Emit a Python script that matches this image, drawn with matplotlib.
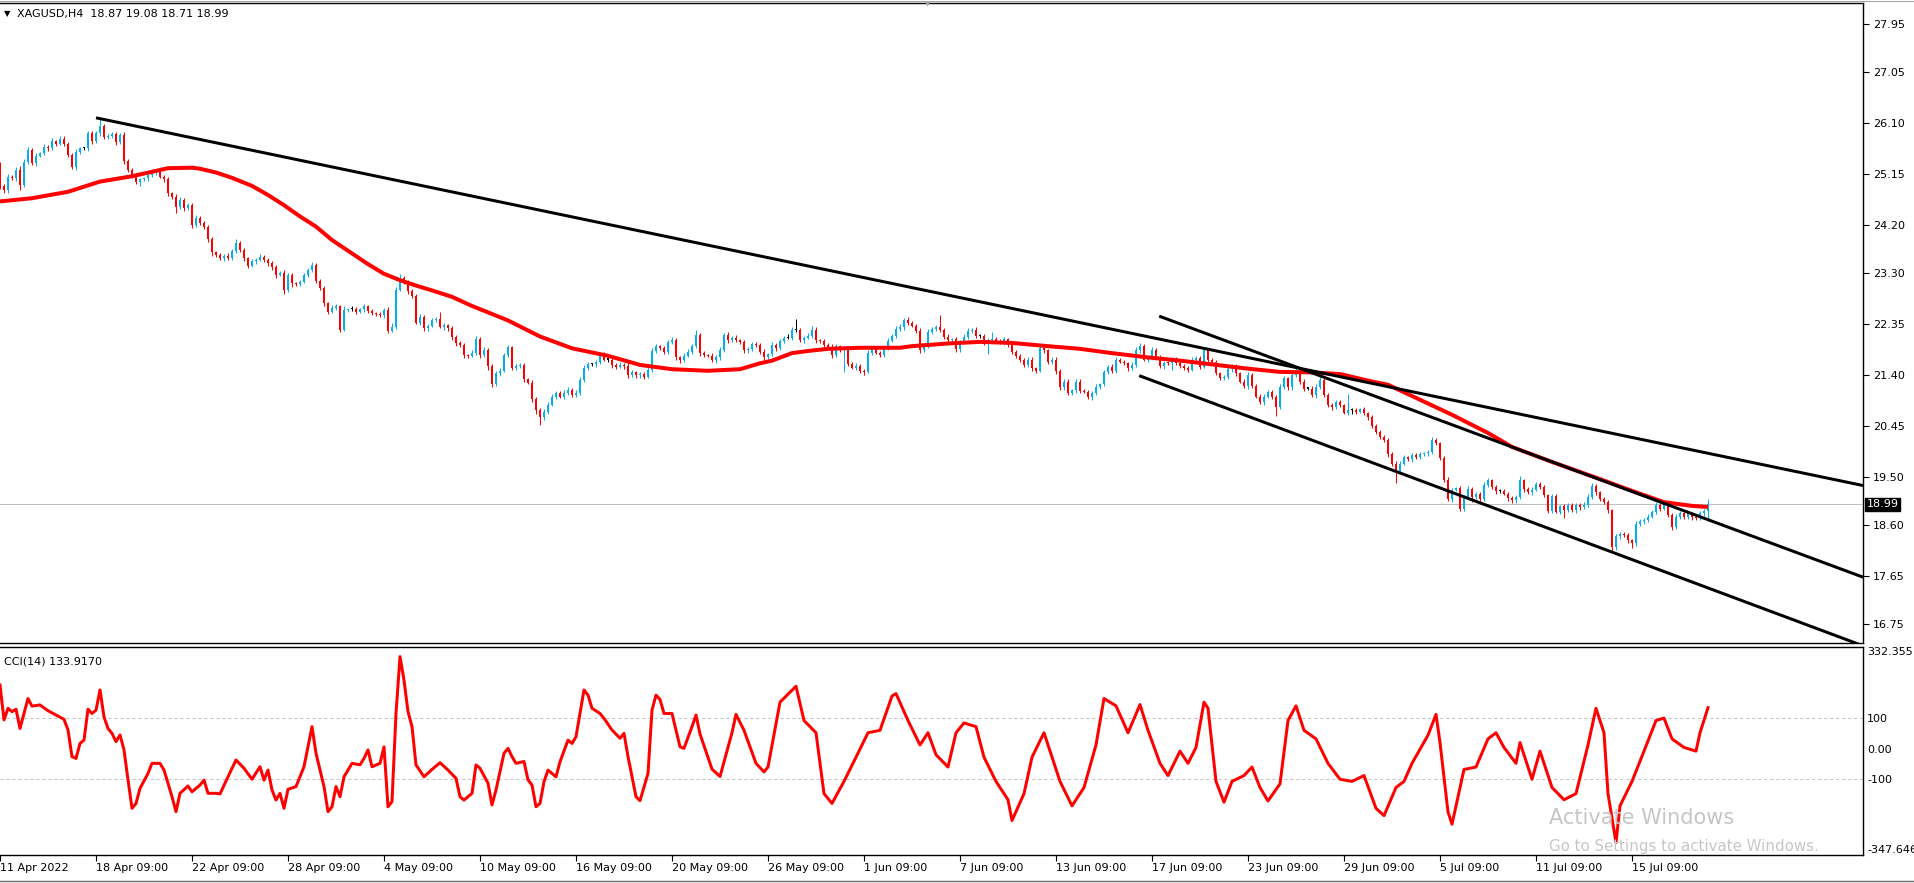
import numpy as np
import matplotlib
matplotlib.use("Agg")
import matplotlib.pyplot as plt
from matplotlib.lines import Line2D

# ---------------- data ----------------
symbol_title = "XAGUSD,H4  18.87 19.08 18.71 18.99"
open0 = 25.05
close = [
    24.93, 24.85, 25.10, 25.07, 25.23, 24.95, 25.38, 25.60, 25.35, 25.49,
    25.54, 25.66, 25.63, 25.76, 25.72, 25.81, 25.72, 25.51, 25.29, 25.57,
    25.63, 25.63, 25.91, 25.76, 25.91, 26.04, 25.84, 25.87, 25.89, 25.74,
    25.88, 25.40, 25.23, 25.13, 25.01, 25.05, 25.07, 25.13, 25.17, 25.20,
    25.10, 25.05, 24.79, 24.73, 24.54, 24.67, 24.51, 24.57, 24.20, 24.33,
    24.23, 24.17, 23.93, 23.69, 23.64, 23.58, 23.62, 23.58, 23.72, 23.86,
    23.73, 23.58, 23.44, 23.52, 23.55, 23.61, 23.55, 23.49, 23.41, 23.27,
    23.30, 22.99, 23.27, 23.11, 23.10, 23.14, 23.27, 23.36, 23.46, 23.16,
    23.02, 22.74, 22.58, 22.66, 22.68, 22.25, 22.62, 22.63, 22.63, 22.58,
    22.63, 22.68, 22.60, 22.55, 22.54, 22.52, 22.62, 22.23, 22.30, 22.99,
    23.21, 23.14, 22.96, 22.88, 22.38, 22.48, 22.27, 22.32, 22.43, 22.44,
    22.30, 22.33, 22.27, 22.12, 21.99, 21.96, 21.77, 21.76, 21.82, 22.07,
    21.77, 21.87, 21.57, 21.23, 21.43, 21.48, 21.77, 21.92, 21.54, 21.57,
    21.59, 21.32, 21.26, 20.95, 20.75, 20.62, 20.72, 20.85, 21.00, 21.06,
    21.00, 21.07, 21.13, 21.03, 21.07, 21.31, 21.54, 21.60, 21.60, 21.65,
    21.77, 21.69, 21.69, 21.59, 21.56, 21.59, 21.57, 21.41, 21.45, 21.40,
    21.42, 21.37, 21.50, 21.85, 21.94, 21.90, 21.84, 22.01, 22.05, 21.73,
    21.68, 21.76, 21.84, 21.94, 22.15, 21.81, 21.77, 21.76, 21.68, 21.73,
    21.87, 22.15, 22.05, 22.10, 22.05, 22.02, 21.86, 21.88, 21.98, 21.96,
    21.84, 21.73, 21.79, 21.96, 21.90, 22.04, 22.10, 22.10, 22.24, 22.24,
    22.05, 22.10, 22.13, 22.25, 22.05, 22.04, 21.96, 21.93, 21.77, 21.94,
    21.87, 21.90, 21.61, 21.54, 21.57, 21.48, 21.46, 21.82, 21.88, 21.82,
    21.77, 21.90, 22.04, 22.13, 22.26, 22.30, 22.43, 22.37, 22.32, 22.23,
    21.87, 21.93, 22.21, 22.26, 22.30, 22.24, 22.12, 22.05, 22.07, 21.88,
    22.01, 22.12, 22.23, 22.24, 22.13, 22.13, 22.02, 22.05, 22.07, 22.04,
    22.02, 22.07, 21.96, 21.84, 21.76, 21.68, 21.59, 21.69, 21.53, 21.48,
    21.90, 21.86, 21.65, 21.69, 21.48, 21.17, 21.28, 21.06, 21.12, 21.28,
    21.11, 21.09, 20.99, 21.06, 21.18, 21.23, 21.46, 21.55, 21.48, 21.69,
    21.65, 21.62, 21.53, 21.59, 21.86, 21.94, 21.69, 21.74, 21.87, 21.74,
    21.57, 21.63, 21.62, 21.69, 21.63, 21.57, 21.53, 21.50, 21.69, 21.71,
    21.56, 21.87, 21.69, 21.65, 21.43, 21.34, 21.37, 21.51, 21.57, 21.43,
    21.28, 21.20, 21.40, 21.20, 21.00, 20.90, 21.00, 21.09, 20.99, 20.81,
    21.18, 21.34, 21.17, 21.40, 21.50, 21.28, 21.15, 21.15, 21.03, 21.18,
    21.30, 21.03, 20.84, 20.80, 20.90, 20.84, 20.70, 20.75, 20.75, 20.72,
    20.76, 20.69, 20.62, 20.45, 20.34, 20.24, 20.19, 19.93, 19.75, 19.60,
    19.75, 19.87, 19.83, 19.91, 19.87, 19.93, 19.94, 19.97, 20.19, 20.13,
    19.85, 19.45, 19.08, 19.26, 19.29, 18.91, 19.13, 19.27, 19.12, 19.18,
    19.09, 19.35, 19.44, 19.31, 19.24, 19.24, 19.19, 19.10, 19.07, 19.13,
    19.44, 19.27, 19.21, 19.26, 19.37, 19.31, 19.16, 18.87, 19.14, 18.85,
    18.95, 18.88, 18.98, 18.88, 18.98, 18.93, 18.98, 19.13, 19.33, 19.21,
    19.08, 19.04, 18.88, 18.20, 18.39, 18.44, 18.41, 18.32, 18.26, 18.62,
    18.68, 18.70, 18.76, 18.85, 18.98, 18.91, 19.00, 18.79, 18.57, 18.75,
    18.82, 18.75, 18.82, 18.75, 18.73, 18.82, 18.87, 18.99,
]
# wick lengths above body top / below body bottom, in cents
upper_wick_cents = [
    33, 4, 6, 3, 5, 8, 5, 6, 4, 5, 3, 5, 4, 6, 3, 5, 6, 3, 4, 5,
    3, 2, 5, 4, 5, 15, 5, 3, 4, 4, 3, 6, 4, 3, 4, 3, 3, 5, 4, 5,
    3, 4, 5, 3, 4, 6, 4, 5, 4, 6, 3, 4, 3, 4, 3, 4, 3, 5, 4, 8,
    5, 4, 3, 4, 3, 5, 3, 4, 3, 5, 4, 6, 3, 4, 2, 3, 4, 3, 5, 3,
    4, 5, 3, 4, 5, 3, 6, 3, 5, 4, 3, 4, 3, 4, 3, 4, 3, 5, 8, 6,
    8, 4, 3, 5, 4, 6, 4, 3, 4, 5, 14, 4, 3, 4, 3, 5, 4, 3, 5, 6,
    4, 5, 3, 4, 5, 6, 4, 5, 3, 4, 3, 4, 3, 5, 4, 3, 4, 5, 4, 5,
    4, 5, 4, 3, 5, 6, 4, 4, 3, 4, 5, 6, 4, 6, 3, 5, 4, 5, 4, 3,
    4, 3, 5, 6, 4, 3, 5, 4, 6, 4, 3, 5, 4, 4, 9, 3, 4, 3, 5, 4,
    5, 4, 6, 3, 4, 3, 4, 5, 3, 4, 3, 4, 3, 5, 4, 4, 3, 6, 5, 20,
    4, 3, 5, 6, 4, 3, 4, 3, 5, 4, 3, 4, 3, 4, 5, 4, 4, 5, 3, 4,
    3, 4, 5, 4, 5, 6, 4, 5, 4, 3, 5, 4, 5, 4, 4, 22, 3, 4, 3, 5,
    4, 5, 4, 3, 5, 3, 4, 4, 13, 5, 3, 4, 3, 4, 3, 4, 3, 5, 4, 3,
    5, 4, 3, 5, 4, 3, 4, 5, 3, 4, 5, 4, 3, 4, 5, 3, 4, 3, 5, 4,
    3, 4, 3, 5, 6, 5, 4, 3, 6, 4, 3, 4, 3, 5, 4, 3, 3, 4, 5, 4,
    4, 5, 4, 3, 4, 3, 4, 5, 3, 4, 3, 4, 5, 4, 3, 5, 4, 3, 4, 3,
    5, 4, 3, 5, 6, 3, 4, 3, 4, 5, 6, 4, 3, 4, 3, 4, 3, 29, 3, 4,
    3, 4, 3, 4, 3, 3, 4, 3, 3, 4, 5, 4, 3, 4, 3, 4, 3, 4, 6, 4,
    3, 4, 5, 4, 3, 5, 4, 6, 4, 3, 4, 5, 4, 3, 4, 3, 4, 3, 5, 4,
    8, 3, 4, 5, 4, 3, 4, 3, 5, 4, 3, 4, 3, 4, 3, 4, 5, 6, 5, 4,
    3, 4, 3, 3, 5, 4, 3, 4, 3, 5, 4, 3, 4, 3, 5, 3, 6, 4, 3, 5,
    4, 3, 4, 3, 4, 5, 4, 9,
]
lower_wick_cents = [
    6, 5, 5, 3, 4, 10, 4, 5, 3, 5, 3, 4, 5, 3, 4, 3, 5, 4, 5, 6,
    4, 3, 5, 4, 3, 5, 4, 3, 5, 4, 3, 6, 4, 5, 4, 8, 3, 4, 3, 4,
    3, 4, 5, 4, 12, 5, 4, 3, 6, 4, 3, 4, 5, 6, 4, 3, 5, 4, 3, 5,
    4, 5, 4, 3, 4, 3, 4, 6, 4, 5, 3, 8, 4, 6, 3, 4, 3, 4, 3, 5,
    4, 5, 4, 3, 4, 5, 3, 4, 3, 4, 3, 5, 4, 3, 4, 3, 5, 4, 3, 4,
    3, 4, 5, 4, 3, 4, 5, 4, 3, 4, 3, 5, 4, 6, 4, 3, 5, 4, 3, 4,
    5, 4, 8, 6, 4, 5, 3, 4, 5, 4, 3, 4, 3, 6, 8, 15, 5, 4, 3, 4,
    3, 4, 5, 4, 3, 4, 3, 4, 3, 5, 4, 3, 4, 5, 4, 3, 5, 6, 4, 5,
    5, 4, 3, 4, 3, 4, 5, 4, 3, 4, 5, 4, 3, 4, 3, 5, 4, 3, 4, 5,
    4, 3, 5, 4, 3, 4, 5, 4, 3, 4, 5, 4, 3, 4, 5, 3, 4, 3, 4, 3,
    4, 5, 3, 4, 5, 4, 3, 4, 5, 3, 4, 41, 4, 3, 4, 5, 6, 3, 4, 3,
    4, 3, 4, 3, 4, 3, 5, 4, 3, 4, 5, 4, 3, 4, 3, 4, 5, 3, 4, 5,
    4, 3, 4, 5, 4, 3, 5, 23, 4, 3, 4, 5, 3, 4, 5, 4, 3, 4, 5, 4,
    3, 4, 5, 4, 6, 5, 4, 3, 4, 5, 4, 3, 4, 5, 3, 4, 3, 4, 5, 4,
    3, 4, 5, 4, 3, 4, 3, 5, 4, 3, 4, 5, 3, 13, 4, 3, 4, 5, 3, 4,
    4, 3, 5, 4, 3, 4, 3, 4, 5, 4, 3, 4, 5, 4, 3, 4, 5, 3, 4, 18,
    4, 3, 5, 4, 3, 5, 4, 3, 4, 5, 4, 3, 4, 5, 3, 4, 3, 4, 8, 4,
    3, 4, 5, 4, 3, 4, 3, 5, 4, 22, 4, 3, 4, 5, 3, 4, 3, 4, 5, 3,
    4, 5, 3, 4, 3, 5, 4, 3, 9, 4, 3, 4, 3, 4, 5, 4, 3, 4, 5, 6,
    4, 5, 3, 4, 3, 4, 3, 5, 4, 3, 4, 15, 3, 4, 5, 4, 3, 4, 5, 4,
    3, 4, 5, 8, 6, 4, 3, 5, 9, 4, 3, 5, 4, 3, 4, 5, 3, 4, 6, 5,
    4, 3, 4, 5, 4, 3, 4, 16,
]

# moving average (bar index, value)
ma_bar = [0, 8, 17, 25, 33, 42, 48, 50, 54, 58, 63, 67, 71, 75, 79, 83, 88, 92, 96, 100,
          104, 108, 113, 118, 127, 135, 143, 152, 160, 168, 177, 185, 190, 193, 198, 202, 207, 215, 225, 228,
          237, 245, 253, 262, 270, 278, 287, 295, 303, 312, 320, 328, 335, 343, 347, 355, 363, 372, 378, 388,
          400, 408, 416, 423, 427]
ma_val = [24.64, 24.70, 24.82, 25.01, 25.11, 25.26, 25.27, 25.25, 25.18, 25.08,
          24.93, 24.76, 24.57, 24.36, 24.17, 23.92, 23.67, 23.47, 23.29, 23.17,
          23.07, 22.98, 22.86, 22.69, 22.42, 22.12, 21.90, 21.76, 21.59, 21.51,
          21.48, 21.51, 21.62, 21.67, 21.81, 21.85, 21.89, 21.91, 21.91, 21.94,
          21.99, 22.02, 22.00, 21.94, 21.89, 21.81, 21.73, 21.67, 21.60, 21.52,
          21.46, 21.45, 21.42, 21.28, 21.22, 20.94, 20.66, 20.32, 20.06, 19.78,
          19.46, 19.24, 19.03, 18.96, 18.94]

# trend lines: (bar0, price0, bar1, price1)
trend_lines = [
    (24.0, 26.20, 465.75, 19.34),
    (289.8, 22.50, 465.75, 17.63),
    (284.8, 21.39, 465.75, 16.35),
]
last_price = 18.99

# CCI(14) (bar index, value)
cci_bar = [0, 1, 2, 3, 4, 5, 6, 7, 8, 10, 12, 14, 16, 17, 18, 19, 20, 21, 22, 23,
           24, 25, 26, 27, 28, 29, 30, 31, 32, 33, 34, 35, 37, 38, 40, 41, 43, 44, 45, 47,
           48, 50, 51, 52, 54, 55, 57, 59, 61, 63, 65, 66, 67, 68, 69, 70, 71, 72, 74, 76,
           77, 78, 79, 81, 82, 83, 84, 85, 86, 88, 90, 91, 92, 93, 95, 96, 97, 98, 99, 100,
           101, 102, 103, 104, 106, 108, 110, 112, 114, 115, 116, 118, 119, 120, 122, 123, 124, 126, 127, 128,
           129, 131, 132, 133, 134, 135, 136, 137, 139, 140, 142, 143, 144, 146, 147, 148, 150, 151, 153, 155,
           156, 157, 159, 160, 162, 163, 164, 165, 166, 168, 170, 171, 173, 174, 175, 178, 180, 183, 184, 186,
           189, 191, 192, 195, 199, 201, 204, 206, 208, 211, 214, 217, 220, 223, 224, 227, 230, 232, 234, 237,
           239, 241, 244, 246, 249, 252, 253, 256, 258, 261, 265, 268, 271, 274, 276, 279, 282, 285, 287, 290,
           292, 295, 297, 299, 301, 302, 304, 306, 308, 311, 313, 315, 317, 320, 322, 324, 326, 329, 332, 335,
           338, 341, 344, 346, 349, 351, 353, 357, 359, 360, 362, 363, 366, 369, 372, 374, 376, 379, 380, 383,
           385, 388, 391, 394, 397, 399, 401, 402, 404, 405, 408, 411, 414, 416, 418, 421, 424, 425, 427]
cci_val = [208, 94, 132, 121, 129, 66, 115, 164, 139, 143, 124, 110, 96, 61, -26, -32, 17, 28, 129, 115,
           126, 192, 104, 66, 50, 23, 45, -4, -102, -195, -179, -130, -81, -48, -48, -70, -157, -206, -146, -122,
           -141, -119, -103, -146, -146, -148, -92, -37, -64, -100, -59, -103, -70, -135, -168, -146, -195, -133, -124, -59,
           6, 72, -15, -124, -206, -190, -124, -157, -92, -48, -53, -32, -4, -59, -48, 6, -190, -173, 115, 301,
           224, 121, 72, -53, -92, -68, -46, -70, -97, -157, -168, -146, -53, -64, -113, -184, -135, -15, 1, -26,
           -48, -42, -102, -119, -190, -179, -108, -70, -92, -43, 28, 17, 39, 192, 175, 132, 115, 99, 61, 34,
           50, -26, -157, -170, -81, 126, 175, 161, 115, 115, 6, 1, 72, 110, 48, -67, -91, 52, 112, 60,
           -48, -76, -60, 152, 204, 92, 52, -147, -179, -107, -28, 52, 60, 172, 180, 92, 12, 52, -20, -60,
           52, 84, 72, -28, -107, -167, -235, -147, -28, 52, -107, -187, -127, 12, 164, 140, 52, 144, 60, -48,
           -88, -8, -48, 4, 152, 132, -107, -175, -107, -88, -60, -127, -171, -115, 92, 140, 60, 32, -48, -100,
           -107, -88, -195, -219, -127, -107, -48, 44, 112, 20, -207, -247, -68, -60, 32, 52, 4, -48, 20, -100,
           -8, -127, -167, -147, 12, 132, 52, -147, -307, -187, -107, -8, 92, 100, 32, 4, -8, 52, 134]
cci_label = "CCI(14) 133.9170"

price_ticks = [27.95, 27.05, 26.10, 25.15, 24.20, 23.30, 22.35, 21.40, 20.45, 19.50, 18.60, 17.65, 16.75]
cci_ticks = [332.355, 100, 0, -100, -347.646]
cci_tick_labels = ["332.355", "100", "0.00", "-100", "-347.646"]
time_tick_bars = [0, 24, 48, 72, 96, 120, 144, 168, 192, 216, 240, 264, 288, 312, 336, 360, 384, 408]
time_tick_labels = ["11 Apr 2022", "18 Apr 09:00", "22 Apr 09:00", "28 Apr 09:00", "4 May 09:00",
                    "10 May 09:00", "16 May 09:00", "20 May 09:00", "26 May 09:00", "1 Jun 09:00",
                    "7 Jun 09:00", "13 Jun 09:00", "17 Jun 09:00", "23 Jun 09:00", "29 Jun 09:00",
                    "5 Jul 09:00", "11 Jul 09:00", "15 Jul 09:00"]

# ---------------- figure ----------------
W, H = 1915, 883
fig = plt.figure(figsize=(W / 100, H / 100), dpi=100)
fig.patch.set_facecolor("white")
plt.rcParams["font.family"] = ["DejaVu Sans"]

def fx(px):
    return px / W

def fy(py):
    return 1 - py / H

axr = 1863
ax = fig.add_axes([0, fy(643), fx(axr), (643 - 3) / H])
ax2 = fig.add_axes([0, fy(855), fx(axr), (855 - 647) / H])

BLUE = "#00B0F0"
RED = "#FF0000"

c = np.array(close)
o = np.r_[open0, c[:-1]]
hi = np.maximum(o, c) + np.array(upper_wick_cents) / 100.0
lo = np.minimum(o, c) - np.array(lower_wick_cents) / 100.0
idx = np.arange(len(c))
cols = np.where(c > o, BLUE, np.where(c < o, RED, "black"))

px = 1 / 1.389  # one pixel in points
ax.axhline(last_price, color="#C0C0C0", lw=1 * px, zorder=1)
ax.vlines(idx, lo, hi, colors=cols, lw=1.0 * px, zorder=2)
body_h = np.maximum(np.abs(c - o), 0.02)
ax.bar(idx, body_h, bottom=np.minimum(o, c), width=0.72, color=cols, linewidth=0, zorder=2)
ax.plot(ma_bar, ma_val, color=RED, lw=4 * px, zorder=3, solid_capstyle="butt")
for (b0, p0, b1, p1) in trend_lines:
    ax.plot([b0, b1], [p0, p1], color="black", lw=3 * px, zorder=4, solid_capstyle="butt")

ax.set_xlim(0, axr / 4)
ax.set_ylim(16.402, 28.342)
ax.yaxis.tick_right()
ax.set_yticks(price_ticks)
ax.set_yticklabels([f"{t:.2f}" for t in price_ticks], fontsize=8)
ax.tick_params(axis="y", direction="out", length=4, width=0.8, pad=3, colors="black")
ax.set_xticks([])
ax.spines["left"].set_visible(False)
for s in ["top", "right", "bottom"]:
    ax.spines[s].set_linewidth(1.0)
    ax.spines[s].set_color("black")

ax.annotate(f"{last_price:.2f}", xy=(1, last_price), xycoords=("axes fraction", "data"),
            xytext=(2.5, 0), textcoords="offset points", ha="left", va="center",
            fontsize=8, color="white",
            bbox=dict(boxstyle="square,pad=0.15", fc="black", ec="black"))

fig.text(fx(4), fy(14), "\u25BC", fontsize=6, ha="left", va="center", color="black")
fig.text(fx(17), fy(14), symbol_title, fontsize=8, ha="left", va="center", color="black")

# ---------------- CCI panel ----------------
ax2.axhline(100, color="#C0C0C0", lw=1 * px, ls=(0, (3, 3)), zorder=1)
ax2.axhline(-100, color="#C0C0C0", lw=1 * px, ls=(0, (3, 3)), zorder=1)
ax2.plot(cci_bar, cci_val, color=RED, lw=3 * px, zorder=3)
ax2.set_xlim(0, axr / 4)
ax2.set_ylim(-347.646, 332.355)
ax2.yaxis.tick_right()
ax2.set_yticks(cci_ticks)
labs = ax2.set_yticklabels(cci_tick_labels, fontsize=8)
labs[0].set_va("top")
labs[-1].set_va("bottom")
ax2.tick_params(axis="y", length=0, pad=3)
ax2.set_xticks(time_tick_bars)
xl = ax2.set_xticklabels(time_tick_labels, fontsize=8)
for t in xl:
    t.set_ha("left")
ax2.tick_params(axis="x", direction="out", length=4, width=0.8, pad=2)
ax2.spines["left"].set_visible(False)
for s in ["top", "right", "bottom"]:
    ax2.spines[s].set_linewidth(1.0)
    ax2.spines[s].set_color("black")
ax2.text(0.002, 0.955, cci_label, transform=ax2.transAxes, fontsize=8, ha="left", va="top")

# window chrome
fig.add_artist(Line2D([0, 1], [fy(0.5), fy(0.5)], color="#A0A0A0", lw=1 * px))
fig.add_artist(Line2D([0, 1], [fy(880.5), fy(880.5)], color="#707070", lw=1.5 * px))
fig.text(fx(928), fy(4), "\u25BC", fontsize=5, color="#A8A8A8", ha="center", va="center")

# watermark
fig.text(fx(1549), fy(818), "Activate Windows", fontsize=15, color="#C6C6C6",
         ha="left", va="center", zorder=10)
fig.text(fx(1549), fy(847), "Go to Settings to activate Windows.", fontsize=10.8,
         color="#C6C6C6", ha="left", va="center", zorder=10)

fig.savefig("out.png", dpi=100, facecolor="white")
